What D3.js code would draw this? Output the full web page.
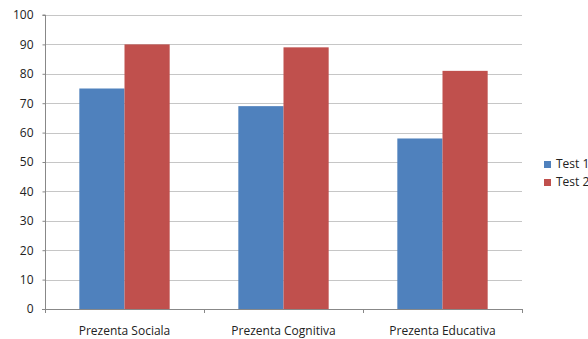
<!DOCTYPE html>
<html><head><meta charset="utf-8">
<script src="https://cdn.jsdelivr.net/npm/d3@7"></script>
<style>body{margin:0;background:#fff;} text{font-family:"Open Sans",sans-serif;fill:#222;}</style>
</head><body><svg id="c" width="588" height="339"></svg>
<script>
const categories = ["Prezenta Sociala", "Prezenta Cognitiva", "Prezenta Educativa"];
const seriesNames = ["Test 1", "Test 2"];
const test1 = [75, 69, 58];
const test2 = [90, 89, 81];
const yTicks = [0,10,20,30,40,50,60,70,80,90,100];
const colors = ["#4F81BD", "#C0504D"];

const svg = d3.select("#c");
const L = 45, R = 522, T = 15, B = 309;
const x = d3.scaleBand().domain(categories).range([L, R]);
const y = d3.scaleLinear().domain([0, 100]).range([B, T]);
const xs = d3.scaleBand().domain(seriesNames).range([0, x.bandwidth()]).paddingInner(0).paddingOuter(0.76);

// gridlines
svg.append("g").selectAll("line").data(yTicks.filter(d=>d>0)).join("line")
  .attr("x1", L).attr("x2", R).attr("y1", d=>Math.round(y(d))+0.5).attr("y2", d=>Math.round(y(d))+0.5)
  .attr("stroke", "#c6c6c6").attr("stroke-width", 1);

// bars
const data = categories.map((c,i)=>({c, vals:[test1[i], test2[i]]}));
const g = svg.append("g");
data.forEach(d=>{
  d.vals.forEach((v,j)=>{
    g.append("rect").attr("x", x(d.c)+xs(seriesNames[j])).attr("width", xs.bandwidth())
      .attr("y", y(v)).attr("height", y(0)-y(v)).attr("fill", colors[j]);
  });
});

// y axis
const ya = d3.axisLeft(y).tickValues(yTicks).tickSize(3).tickPadding(9).tickFormat(d3.format("d"));
const yg = svg.append("g").attr("transform", `translate(${L+0.5},0)`).call(ya);
yg.select(".domain").attr("stroke", "#888").attr("d", `M-3,${T}H0V${B}`);
yg.selectAll(".tick line").attr("stroke", "#888");
yg.selectAll("text").style("font-size", "12px").style("font-family", '"Open Sans",sans-serif').attr("fill", "#222");
yg.selectAll(".tick").filter(d=>d===0).select("line").remove();

// x axis
const xa = d3.axisBottom(x).tickSize(0).tickPadding(17);
const xg = svg.append("g").attr("transform", `translate(0,${B+0.5})`).call(xa);
xg.select(".domain").attr("stroke", "#888").attr("d", `M${L-3},0H${R}`);
xg.selectAll("text").style("font-size", "12px").style("font-family", '"Open Sans",sans-serif').attr("fill", "#111");
// category separator ticks
const seps = [L, ...categories.map(c=>x(c)+x.bandwidth())];
svg.append("g").selectAll("line").data(seps).join("line")
  .attr("x1", d=>Math.round(d)+0.5).attr("x2", d=>Math.round(d)+0.5).attr("y1", B).attr("y2", B+4)
  .attr("stroke", "#888");

// legend
const lg = svg.append("g").selectAll("g").data(seriesNames).join("g")
  .attr("transform", (d,i)=>`translate(544,${161+i*18})`);
lg.append("rect").attr("width", 7).attr("height", 7).attr("fill", (d,i)=>colors[i]);
lg.append("text").attr("x", 12).attr("y", 7).text(d=>d).style("font-size", "12px");
</script></body></html>
